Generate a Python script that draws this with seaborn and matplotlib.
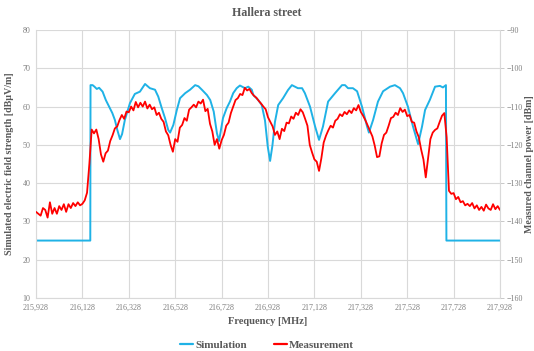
import numpy as np
import pandas as pd
import matplotlib
matplotlib.use("Agg")
import matplotlib.pyplot as plt
import seaborn as sns
from matplotlib.lines import Line2D

# Simulated field strength [dBuV/m] along the DAB block
sim_freq = [215.928, 216.162, 216.163, 216.172, 216.180, 216.190, 216.200, 216.215, 216.229, 216.243,
            216.257, 216.268, 216.278, 216.290, 216.299, 216.311, 216.333, 216.354, 216.376, 216.398,
            216.419, 216.441, 216.455, 216.470, 216.484, 216.498, 216.506, 216.520, 216.535, 216.549,
            216.571, 216.592, 216.614, 216.628, 216.643, 216.665, 216.679, 216.694, 216.708, 216.717,
            216.734, 216.750, 216.764, 216.778, 216.793, 216.807, 216.829, 216.843, 216.858, 216.865,
            216.886, 216.901, 216.915, 216.927, 216.937, 216.947, 216.958, 216.972, 216.993, 217.014,
            217.031, 217.044, 217.057, 217.075, 217.087, 217.109, 217.131, 217.148, 217.165, 217.187,
            217.217, 217.247, 217.260, 217.273, 217.294, 217.312, 217.333, 217.355, 217.363, 217.381,
            217.402, 217.424, 217.454, 217.475, 217.497, 217.510, 217.531, 217.553, 217.575, 217.592,
            217.605, 217.626, 217.648, 217.669, 217.682, 217.695, 217.697, 217.928]
sim_level = [25, 25, 65.6, 65.6, 65.2, 64.6, 64.9, 63.9, 61.7, 60.0,
             58.3, 56.5, 54.0, 51.5, 52.8, 56.5, 60.9, 63.3, 63.9, 65.9,
             64.8, 64.4, 62.6, 59.6, 57.0, 53.9, 53.2, 55.2, 59.1, 62.2,
             63.5, 64.4, 65.6, 65.3, 64.4, 63.0, 61.7, 58.7, 53.0, 51.0,
             57.0, 59.6, 61.3, 63.5, 64.8, 65.5, 64.8, 65.2, 64.4, 63.0,
             61.7, 60.4, 56.4, 49.5, 45.8, 49.8, 56.0, 60.4, 62.2, 64.3,
             65.6, 65.2, 64.8, 64.8, 63.5, 60.0, 54.8, 51.3, 54.8, 61.3,
             63.5, 65.6, 65.6, 64.8, 64.8, 64.0, 60.0, 54.8, 53.2, 56.5,
             61.3, 64.0, 65.2, 65.6, 64.8, 63.5, 60.0, 54.8, 50.2, 54.8,
             59.1, 61.8, 65.2, 65.4, 65.0, 65.6, 25, 25]

# Measured channel power [dBm], sweep from 215.928 MHz in 10 kHz steps
meas_start = 215.928
meas_step = 0.01
meas_power = [
    -137.5, -138, -138.5, -136.5, -137, -139, -135, -138, -136.5, -138,
    -136, -137, -135.5, -137.5, -135.5, -136.5, -135.2, -136, -135, -135.8,
    -135.4, -134.5, -132.5, -125, -116, -117, -116, -118.5, -122.5, -124.4,
    -122.2, -121.5, -119, -117.5, -115.7, -115.2, -113.5, -112.2, -113.2, -111.3,
    -111.5, -110, -111, -108.8, -110.2, -109, -110, -108.7, -110.5, -109.5,
    -110.7, -110.2, -112.2, -111.6, -113.2, -114, -116.5, -117.5, -120, -121.8,
    -118.5, -119.2, -115.5, -114.8, -113, -113.7, -110.8, -110.2, -109.5, -110.2,
    -108.7, -109.2, -108.2, -111.2, -110.6, -114.5, -116.5, -120, -118.5, -121,
    -118.8, -117.4, -115, -114.2, -111.7, -110, -108.3, -107.8, -106.7, -107,
    -105.1, -105.8, -105.4, -106.5, -107.2, -107.7, -108.5, -109.2, -110, -110.7,
    -112.8, -114, -115.2, -117.4, -116.5, -118.5, -115.8, -116.4, -114.2, -114.4,
    -112.6, -113.2, -111.6, -112.2, -110.7, -111.5, -113.2, -115, -120, -122,
    -123.8, -124.4, -126.8, -123.5, -119.4, -117.6, -116.2, -115, -115.5, -113.7,
    -113.2, -112, -112.5, -111.4, -112, -111, -111.7, -110.4, -111, -109.6,
    -111.4, -112.4, -113.6, -115, -116.4, -117.8, -120.2, -123.2, -123, -119.6,
    -117.4, -116.8, -115, -113, -112.7, -111.6, -112.2, -110.4, -111.4, -110.8,
    -112.5, -112.2, -114, -114.2, -116.5, -118, -121.2, -123.8, -128.5, -123.5,
    -118.5, -116.8, -116.1, -115.7, -114, -112.4, -111.7, -118, -132, -132.8,
    -132.6, -134.2, -133.6, -135, -134.7, -135.8, -135.4, -136, -135.2, -136.6,
    -135.8, -137, -136.2, -137.2, -135.6, -136.6, -137, -135.5, -136.8, -136,
    -137]

x_ticks = [215.928, 216.128, 216.328, 216.528, 216.728, 216.928,
           217.128, 217.328, 217.528, 217.728, 217.928]
x_tick_labels = ["215,928", "216,128", "216,328", "216,528", "216,728", "216,928",
                 "217,128", "217,328", "217,528", "217,728", "217,928"]
left_ticks = [10, 20, 30, 40, 50, 60, 70, 80]
right_ticks = [-160, -150, -140, -130, -120, -110, -100, -90]

sim_df = pd.DataFrame({"freq": sim_freq, "level": sim_level})
meas_df = pd.DataFrame({
    "freq": np.round(meas_start + meas_step * np.arange(len(meas_power)), 3),
    "power": meas_power,
})

sns.set_theme(style="white")
plt.rcParams["font.family"] = ["Liberation Serif", "DejaVu Serif"]

BLUE = "#1FB2E6"
RED = "#FF0000"
GRID = "#D9D9D9"
TXT = "#595959"
TICK = "#7F7F7F"

fig = plt.figure(figsize=(5.34, 3.51), dpi=100)
ax = fig.add_axes([36 / 534, 1 - 298 / 351, (500 - 36) / 534, (298 - 30) / 351])
ax2 = ax.twinx()

sns.lineplot(data=sim_df, x="freq", y="level", ax=ax, color=BLUE, linewidth=1.4,
             estimator=None, sort=False)
sns.lineplot(data=meas_df, x="freq", y="power", ax=ax2, color=RED, linewidth=1.3,
             estimator=None, sort=False)

ax.set_xlim(215.928, 217.928)
ax.set_ylim(10, 80)
ax2.set_ylim(-160, -90)
ax.set_xticks(x_ticks)
ax.set_xticklabels(x_tick_labels)
ax.set_yticks(left_ticks)
ax2.set_yticks(right_ticks)

ax.grid(True, color=GRID, linewidth=0.8)
ax.set_axisbelow(True)
ax2.grid(False)

for a in (ax, ax2):
    a.spines["top"].set_visible(False)
    for side in ("left", "bottom", "right"):
        a.spines[side].set_color(GRID)
        a.spines[side].set_linewidth(0.8)
ax.spines["right"].set_visible(False)
ax2.spines["left"].set_visible(False)
ax2.spines["bottom"].set_visible(False)

ax.tick_params(axis="both", labelsize=5.8, colors=TICK, length=0, pad=4)
ax2.tick_params(axis="y", labelsize=5.8, colors=TICK, length=3, width=0.6,
                color="#BFBFBF", pad=2)

ax.set_xlabel("Frequency [MHz]", fontsize=7.6, fontweight="bold", color=TXT, labelpad=4)
ax.set_ylabel("Simulated electric field strength [dBμV/m]", fontsize=7.2,
              fontweight="bold", color=TXT)
ax2.set_ylabel("Measured channel power [dBm]", fontsize=7.2, fontweight="bold",
               color=TXT)
ax.yaxis.set_label_coords((14 - 36) / 464, 0.5)
ax2.yaxis.set_label_coords((525 - 36) / 464, 0.5)
fig.text(0.5, 1 - 13 / 351, "Hallera street", ha="center", va="center",
         fontsize=8.6, fontweight="bold", color=TXT)

handles = [Line2D([], [], color=BLUE, linewidth=1.6),
           Line2D([], [], color=RED, linewidth=1.6)]
leg = fig.legend(handles, ["Simulation", "Measurement"], loc="center",
                 bbox_to_anchor=(0.5, 1 - 345 / 351), ncol=2, frameon=False,
                 prop={"size": 8, "weight": "bold"}, handlelength=1.2,
                 handletextpad=0.2, columnspacing=2.4)
for t in leg.get_texts():
    t.set_color(TXT)

fig.savefig("out.png", dpi=100)
